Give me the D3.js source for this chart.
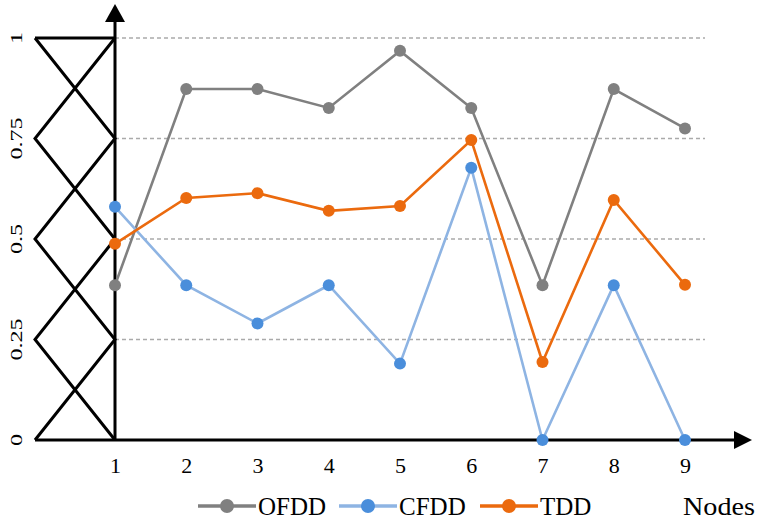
<!DOCTYPE html>
<html>
<head>
<meta charset="utf-8">
<script src="https://cdn.jsdelivr.net/npm/d3@7"></script>
<style>
  html, body { margin: 0; padding: 0; background: #fff; }
  svg { display: block; }
  text { font-family: "Liberation Serif", "Times New Roman", Times, "DejaVu Serif", serif; }
</style>
</head>
<body>
<svg id="chart" width="762" height="519"></svg>
<script>
const nodes = [1, 2, 3, 4, 5, 6, 7, 8, 9];
const ofdd = [0.385, 0.873, 0.873, 0.826, 0.968, 0.826, 0.385, 0.873, 0.775];
const cfdd = [0.58, 0.385, 0.29, 0.385, 0.19, 0.677, 0, 0.385, 0];
const tdd = [0.488, 0.602, 0.614, 0.57, 0.582, 0.746, 0.194, 0.597, 0.386];
const yTicks = [0, 0.25, 0.5, 0.75, 1];
const seriesNames = ["OFDD", "CFDD", "TDD"];

const serif = "Liberation Serif, Times New Roman, serif";
const svg = d3.select("#chart");

const x = d3.scaleLinear().domain([1, 9]).range([115, 685]);
const y = d3.scaleLinear().domain([0, 1]).range([440, 38]);

// dashed grid lines
svg.append("g")
    .selectAll("line")
    .data(yTicks.filter(d => d > 0))
    .join("line")
    .attr("x1", x(1))
    .attr("x2", 705)
    .attr("y1", d => y(d))
    .attr("y2", d => y(d))
    .attr("stroke", "#aaaaaa")
    .attr("stroke-width", 1.3)
    .attr("stroke-dasharray", "4,3");

// triangular membership zigzag on the left
const zw = 80;
const zigA = yTicks.slice().reverse().map((t, i) => [i % 2 === 0 ? x(1) - zw : x(1), y(t)]);
const zigB = yTicks.slice().reverse().map((t, i) => [i % 2 === 0 ? x(1) : x(1) - zw, y(t)]);
const zline = d3.line();
svg.append("path").attr("d", zline(zigA)).attr("fill", "none").attr("stroke", "#000").attr("stroke-width", 3);
svg.append("path").attr("d", zline(zigB)).attr("fill", "none").attr("stroke", "#000").attr("stroke-width", 3);
svg.append("line")
    .attr("x1", x(1) - zw).attr("x2", x(1))
    .attr("y1", y(1)).attr("y2", y(1))
    .attr("stroke", "#000").attr("stroke-width", 3);

// axes with arrows
svg.append("line")
    .attr("x1", x(1) - zw).attr("x2", 738)
    .attr("y1", y(0)).attr("y2", y(0))
    .attr("stroke", "#000").attr("stroke-width", 3);
svg.append("path")
    .attr("d", `M752,${y(0)} L734,${y(0) - 9} L734,${y(0) + 9} Z`)
    .attr("fill", "#000");
svg.append("line")
    .attr("x1", x(1)).attr("x2", x(1))
    .attr("y1", y(0)).attr("y2", 20)
    .attr("stroke", "#000").attr("stroke-width", 3);
svg.append("path")
    .attr("d", `M${x(1)},4 L${x(1) - 10},22 L${x(1) + 10},22 Z`)
    .attr("fill", "#000");

// x tick labels
const xAxis = svg.append("g")
    .attr("transform", `translate(0,${y(0)})`)
    .call(d3.axisBottom(x).tickValues(nodes).tickSize(0).tickPadding(17).tickFormat(d3.format("d")));
xAxis.select(".domain").remove();
xAxis.attr("font-family", serif).attr("font-size", 22);
xAxis.selectAll("text")
    .attr("font-family", serif)
    .attr("fill", "#000");

// y tick labels (rotated, stretched like the original)
svg.append("g")
    .selectAll("text")
    .data(yTicks)
    .join("text")
    .attr("transform", d => `translate(22,${y(d)}) rotate(-90) scale(1.42,1)`)
    .attr("text-anchor", "middle")
    .attr("font-family", serif)
    .attr("font-size", 17)
    .attr("fill", "#000")
    .text(d => d);

const series = [
    { name: seriesNames[0], values: ofdd, line: "#808080", dot: "#808080" },
    { name: seriesNames[1], values: cfdd, line: "#8eb4e3", dot: "#4a8edb" },
    { name: seriesNames[2], values: tdd, line: "#eb6a0e", dot: "#eb6a0e" }
];

const line = d3.line()
    .x((d, i) => x(nodes[i]))
    .y(d => y(d));

series.forEach(s => {
    svg.append("path")
        .datum(s.values)
        .attr("fill", "none")
        .attr("stroke", s.line)
        .attr("stroke-width", 2.6)
        .attr("d", line);
    svg.append("g")
        .selectAll("circle")
        .data(s.values)
        .join("circle")
        .attr("cx", (d, i) => x(nodes[i]))
        .attr("cy", d => y(d))
        .attr("r", 6)
        .attr("fill", s.dot);
});

// legend
const legendX = [198, 339, 480];
series.forEach((s, i) => {
    const g = svg.append("g").attr("transform", `translate(${legendX[i]},506)`);
    g.append("line").attr("x1", 0).attr("x2", 58).attr("y1", 0).attr("y2", 0)
        .attr("stroke", s.line).attr("stroke-width", 3.5);
    g.append("circle").attr("cx", 29).attr("cy", 0).attr("r", 7).attr("fill", s.dot);
    g.append("text").attr("x", 60).attr("y", 9)
        .attr("font-family", serif).attr("font-size", 25).attr("fill", "#000").text(s.name);
});

svg.append("text")
    .attr("x", 683).attr("y", 515)
    .attr("font-family", serif)
    .attr("font-size", 25)
    .attr("textLength", 72)
    .attr("lengthAdjust", "spacingAndGlyphs")
    .attr("fill", "#000")
    .text("Nodes");
</script>
</body>
</html>
